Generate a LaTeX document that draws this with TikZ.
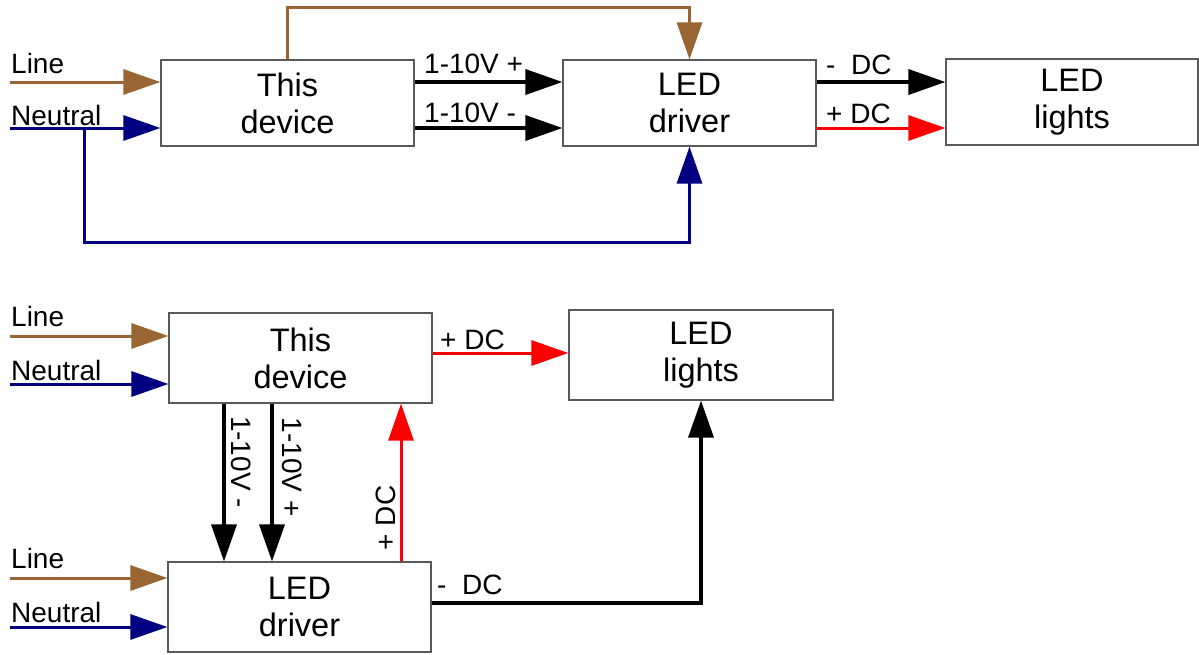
\documentclass[tikz,border=0pt]{standalone}
\usepackage{fontspec}
\setmainfont{Liberation Sans}
\usetikzlibrary{arrows.meta}
\definecolor{wbrown}{RGB}{153,102,51}
\definecolor{wblue}{RGB}{0,0,128}
\definecolor{wred}{RGB}{255,0,0}
\begin{document}
\begin{tikzpicture}[x=1pt,y=-1pt,
  box/.style={draw=black!65,line width=1.2pt,minimum height=86pt,inner sep=0pt,
    align=center,font=\fontsize{32.5}{37}\selectfont},
  lbl/.style={font=\fontsize{28}{31}\selectfont,inner sep=0pt,anchor=base west},
  vlbl/.style={font=\fontsize{28}{31}\selectfont,inner sep=0pt},
  tip/.style={-{Triangle[length=37pt,width=25pt]}},
  brownwire/.style={draw=wbrown,line width=3pt},
  bluewire/.style={draw=wblue,line width=3pt},
  redwire/.style={draw=wred,line width=3pt},
  blackwire/.style={draw=black,line width=3.6pt},
  line join=miter]
\useasboundingbox (0,0) rectangle (1199,654);

% ---------- top diagram ----------
\node[box,minimum width=253pt] (dev1) at (287.5,103) {This\\device};
\node[box,minimum width=253pt] (drv1) at (689.5,103) {LED\\driver};
\node[box,minimum width=252pt] (lights1) at (1072,102) {LED\\lights};

\coordinate (L1) at (10,82);
\coordinate (N1) at (10,128);
\coordinate (J1) at (84,128);
\coordinate (topy) at (0,7);
\coordinate (boty) at (0,242);

\node[lbl] (tL1) at (11,73) {Line};
\node[lbl] (tN1) at (11,125) {Neutral};

\draw[brownwire,tip] (L1) -- (L1 -| dev1.west);
\draw[bluewire,tip] (N1) -- (N1 -| dev1.west);
\draw[brownwire,tip] (dev1.north) -- (dev1.north |- topy) -| (drv1.north);
\draw[bluewire,tip] (J1) -- (J1 |- boty) -| (drv1.south);

\draw[blackwire,tip] (dev1.east |- L1) -- (drv1.west |- L1);
\draw[blackwire,tip] (dev1.east |- N1) -- (drv1.west |- N1);
\node[lbl] (t10p) at (424,73) {1-10V +};
\node[lbl] (t10m) at (424,122) {1-10V -};

\draw[blackwire,tip] (drv1.east |- L1) -- (lights1.west |- L1);
\draw[redwire,tip] (drv1.east |- N1) -- (lights1.west |- N1);
\node[lbl] (tdcm1) at (826,74) {-\ \ DC};
\node[lbl] (tdcp1) at (826,123) {+ DC};

% ---------- bottom diagram ----------
\node[box,minimum width=263pt,minimum height=90pt] (dev2) at (300.5,358) {This\\device};
\node[box,minimum width=264pt,minimum height=90pt] (lights2) at (701,355) {LED\\lights};
\node[box,minimum width=263pt,minimum height=90pt] (drv2) at (299.5,607) {LED\\driver};

\coordinate (L2) at (10,336);
\coordinate (N2) at (10,384);
\coordinate (L3) at (10,578);
\coordinate (N3) at (10,627);
\node[lbl] (tL2) at (11,326) {Line};
\node[lbl] (tN2) at (11,380) {Neutral};
\node[lbl] (tL3) at (11,568) {Line};
\node[lbl] (tN3) at (11,622) {Neutral};

\draw[brownwire,tip] (L2) -- (L2 -| dev2.west);
\draw[bluewire,tip] (N2) -- (N2 -| dev2.west);
\draw[brownwire,tip] (L3) -- (L3 -| drv2.west);
\draw[bluewire,tip] (N3) -- (N3 -| drv2.west);

\coordinate (xa) at (224,0);
\coordinate (xb) at (272,0);
\coordinate (xc) at (401,0);
\coordinate (dcy) at (0,603);
\coordinate (pdy) at (0,353);

\draw[redwire,tip] (dev2.east |- pdy) -- (lights2.west |- pdy);
\node[lbl] (tdcp2) at (440,349) {+ DC};

\draw[blackwire,tip] (dev2.south -| xa) -- (drv2.north -| xa);
\draw[blackwire,tip] (dev2.south -| xb) -- (drv2.north -| xb);
\draw[redwire,tip] (drv2.north -| xc) -- (dev2.south -| xc);
\node[vlbl,rotate=-90] (v10m) at (241,462) {1-10V -};
\node[vlbl,rotate=-90] (v10p) at (292,467) {1-10V +};
\node[vlbl,rotate=90] (vdcp) at (386,518) {+ DC};

\draw[blackwire,tip] (drv2.east |- dcy) -| (lights2.south);
\node[lbl] (tdcm2) at (437,594) {-\ \ DC};
\end{tikzpicture}
\end{document}
